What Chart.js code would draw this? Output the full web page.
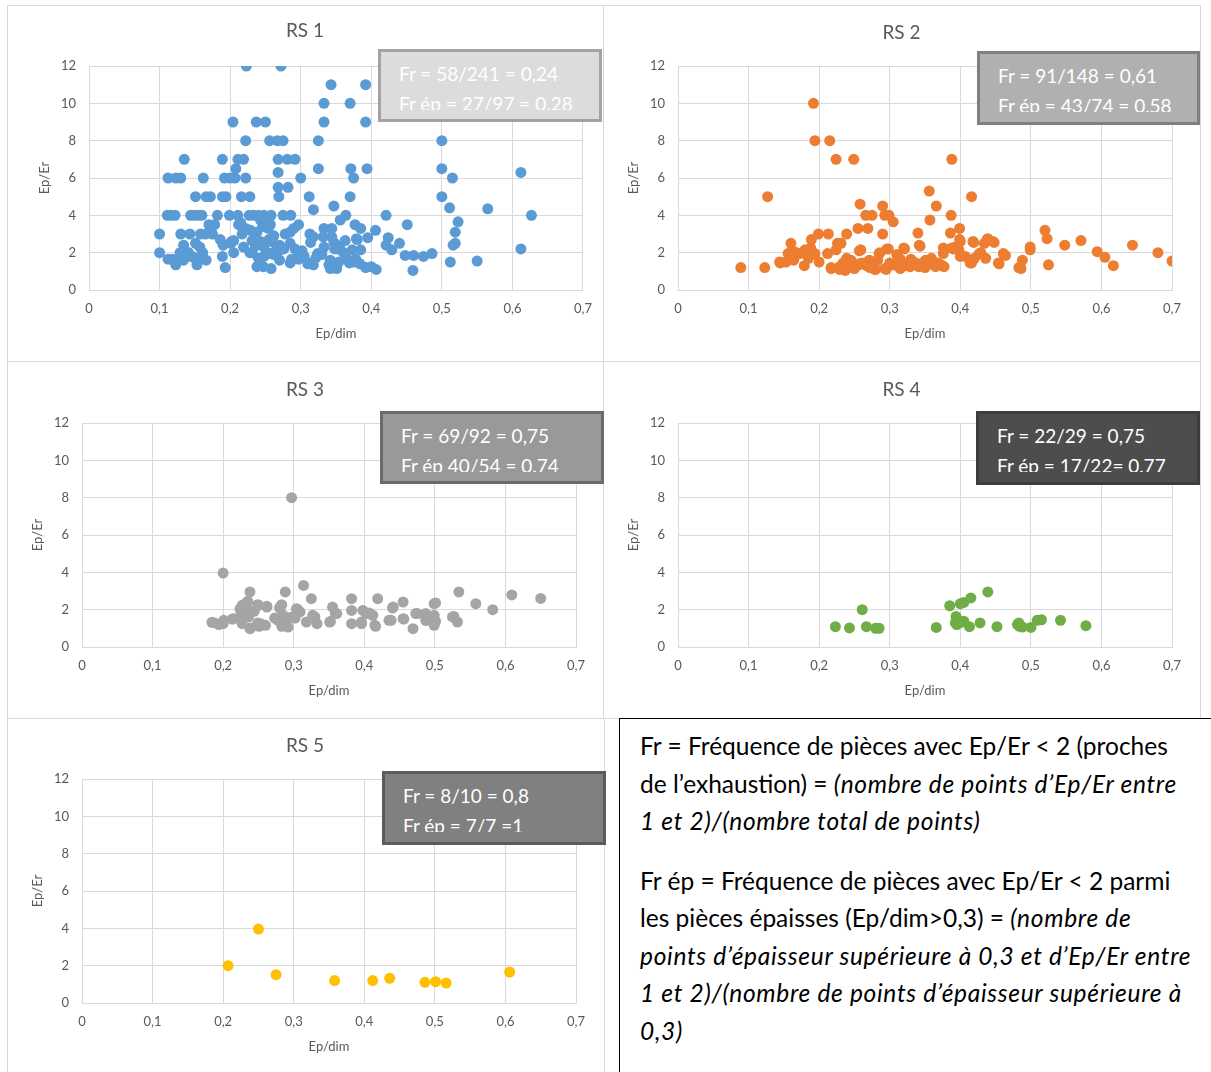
<!DOCTYPE html>
<html>
<head>
<meta charset="utf-8">
<title>RS 1-5 : Ep/Er en fonction de Ep/dim</title>
<script src="https://cdn.jsdelivr.net/npm/chart.js@4.4.0/dist/chart.umd.min.js"></script>
<style>
  html, body { margin: 0; padding: 0; background: #fff; }
  body { width: 1211px; height: 1072px; position: relative; overflow: hidden; font-family: Lato, 'Open Sans', sans-serif; }
  .panel { position: absolute; border: 1px solid #d9d9d9; box-sizing: border-box; }
  canvas { position: absolute; }
  .stat { position: absolute; box-sizing: border-box; border: 3px solid; color: #fff; font-size: 19px; }
  .stat .txt { position: absolute; left: 18px; top: 6.6px; right: 0; height: 51.5px; overflow: hidden; line-height: 30px; white-space: nowrap; }
  .note { position: absolute; left: 619px; top: 718px; width: 620px; height: 380px; border: 1px solid #000; box-sizing: border-box;
          padding: 8px 0 0 20px; font-size: 24.5px; line-height: 37.5px; color: #000; white-space: nowrap; }
  .note p { margin: 0 0 22px 0; }
  .note i { font-style: italic; letter-spacing: 0.7px; }
</style>
</head>
<body>

<div class="panel" style="left:7px;top:5px;width:597px;height:357px"></div>
<div class="panel" style="left:603px;top:5px;width:598px;height:357px"></div>
<div class="panel" style="left:7px;top:361px;width:597px;height:358px"></div>
<div class="panel" style="left:603px;top:361px;width:598px;height:358px"></div>
<div class="panel" style="left:7px;top:718px;width:598px;height:380px"></div>

<canvas id="rs1"></canvas>
<canvas id="rs2"></canvas>
<canvas id="rs3"></canvas>
<canvas id="rs4"></canvas>
<canvas id="rs5"></canvas>

<div class="note">
  <p>Fr = Fréquence de pièces avec Ep/Er &lt; 2 (proches<br>de l’exhaustion) = <i>(nombre de points d’Ep/Er entre<br>1 et 2)/(nombre total de points)</i></p>
  <p>Fr ép = Fréquence de pièces avec Ep/Er &lt; 2 parmi<br>les pièces épaisses (Ep/dim&gt;0,3) = <i>(nombre de<br>points d’épaisseur supérieure à 0,3 et d’Ep/Er entre<br>1 et 2)/(nombre de points d’épaisseur supérieure à<br>0,3)</i></p>
</div>

<script>
// ---------- data ----------
var xTickValues = [0, 0.1, 0.2, 0.3, 0.4, 0.5, 0.6, 0.7];
var xTickLabels = ['0', '0,1', '0,2', '0,3', '0,4', '0,5', '0,6', '0,7'];
var yTickValues = [0, 2, 4, 6, 8, 10, 12];
var yTickLabels = ['0', '2', '4', '6', '8', '10', '12'];

var rs1X = [
  .223,.272,.343,.392,.333,.370,.204,.237,.250,.333,
  .392,.222,.256,.267,.275,.325,.500,.135,.189,.211,
  .219,.268,.281,.292,.208,.325,.371,.394,.500,.612,
  .112,.123,.130,.162,.192,.200,.207,.222,.268,.300,
  .375,.515,.268,.282,.151,.166,.172,.189,.194,.216,
  .228,.269,.312,.370,.500,.347,.318,.511,.565,.111,
  .116,.122,.144,.150,.155,.160,.182,.199,.211,.227,
  .233,.240,.248,.258,.275,.286,.421,.627,.364,.356,
  .523,.178,.212,.243,.257,.297,.290,.333,.344,.377,
  .385,.406,.451,.519,.100,.130,.143,.158,.165,.175,
  .217,.238,.278,.285,.313,.332,.344,.379,.424,.440,
  .519,.134,.151,.186,.190,.201,.205,.219,.231,.243,
  .258,.270,.285,.314,.318,.347,.363,.380,.421,.429,
  .516,.100,.112,.118,.123,.129,.134,.141,.153,.153,
  .161,.166,.189,.193,.205,.231,.238,.247,.258,.248,
  .252,.259,.267,.285,.295,.302,.314,.318,.324,.333,
  .342,.342,.351,.354,.356,.361,.369,.375,.373,.385,
  .392,.400,.407,.448,.460,.474,.486,.459,.512,.550,
  .612,.121,.127,.146,.157,.170,.215,.222,.229,.246,
  .252,.262,.228,.240,.248,.262,.266,.276,.287,.297,
  .305,.310,.322,.330,.340,.348,.365,.378,.384,.395,
  .355,.302,.292,.270,.255,.236,.254,.202,.138,.148
];
var rs1Y = [
  12,12,11,11,10,10,9,9,9,9,
  9,8,8,8,8,8,8,7,7,7,
  7,7,7,7,6.5,6.5,6.5,6.5,6.5,6.3,
  6,6,6,6,6,6,6,6,6.3,6,
  6,6,5.5,5.5,5,5,5,5,5,5,
  5,5,5,5,5,4.5,4.3,4.4,4.35,4,
  4,4,4,4,4,4,4,4,4,4,
  4,4,4,4,4,4,4,4,4,3.75,
  3.65,3.5,3.5,3.75,3.5,3.5,3.3,3.3,3.3,3.5,
  3.3,3.2,3.5,3.1,3,3,3,3,3,3,
  3,3.1,3,3.1,3,2.85,2.85,2.75,2.8,2.5,
  2.5,2.4,2.5,2.7,2.4,2.5,2.65,2.3,2.65,2.6,
  2.6,2.4,2.5,2.55,2.85,2.55,2.65,2.7,2.4,2.15,
  2.4,2,1.65,1.65,1.35,2,1.6,2,1.6,1.35,
  2,1.6,1.8,1.2,2,2,1.25,1.25,1.15,1.8,
  2,1.95,2,1.45,1.7,1.95,1.45,1.35,1.95,2.3,
  1.6,1.15,1.15,1.5,2.15,2,1.45,1.5,2.15,2.15,
  1.2,1.25,1.1,1.85,1.85,1.8,1.95,1.05,1.5,1.55,
  2.2,1.55,1.7,1.8,2.3,3.5,3.6,3.3,3.2,3.4,
  3.6,2.9,2.0,1.7,2.3,1.9,2.2,2.2,1.65,1.65,
  1.8,1.4,1.75,1.9,1.35,2.2,1.7,1.65,1.4,2.8,
  2.35,2.1,2.2,1.6,2.7,2.35,3.3,2.6,2.05,1.75
];

var rs2X = [
  .192,.194,.215,.224,.249,.388,.127,.416,.356,.258,
  .290,.366,.266,.275,.293,.299,.305,.357,.387,.255,
  .269,.290,.199,.213,.239,.340,.342,.386,.399,.399,
  .418,.439,.446,.434,.520,.523,.548,.571,.644,.594,
  .605,.617,.680,.700,.499,.499,.525,.488,.486,.461,
  .454,.436,.427,.420,.416,.407,.400,.398,.388,.393,
  .376,.376,.373,.377,.368,.359,.351,.346,.341,.334,
  .329,.320,.320,.310,.315,.305,.296,.285,.283,.293,
  .280,.271,.266,.261,.256,.259,.239,.234,.237,.229,
  .226,.231,.224,.217,.212,.194,.188,.189,.173,.180,
  .185,.160,.156,.164,.144,.153,.179,.123,.089,.217,
  .229,.236,.257,.267,.279,.295,.310,.324,.338,.352,
  .362,.374,.257,.286,.298,.321,.343,.390,.400,.419,
  .438,.448,.464,.455,.483,.429,.414,.145,.165,.200,
  .245,.272,.300,.315,.330,.350,.365,.250
];
var rs2Y = [
  10,8,8,7,7,7,5,5,5.3,4.6,
  4.5,4.5,4,4,4,4,3.65,3.75,4,3.3,
  3.3,3,3,3,3,3.05,2.4,3.05,3.3,2.7,
  2.6,2.75,2.6,2.5,3.2,2.75,2.4,2.65,2.4,2.05,
  1.75,1.3,2,1.55,2.3,2.15,1.35,1.6,1.15,1.95,
  1.45,1.7,1.95,1.7,1.45,1.8,1.8,2.15,2.25,2.3,
  2.25,1.95,1.35,1.25,1.45,1.7,1.6,1.45,1.25,1.5,
  1.25,2.25,1.3,1.9,1.65,1.35,2.2,1.95,1.6,1.15,
  1.1,1.6,1.35,1.45,1.35,2.15,1.7,1.45,1.05,1.25,
  2.5,2.5,2.15,1.15,1.95,1.95,2.25,2.7,1.95,2.15,
  1.7,2.5,1.95,1.6,1.5,1.5,1.3,1.2,1.2,1.2,
  1.1,1.3,1.4,1.3,1.1,1.1,1.3,1.3,1.4,1.3,
  1.45,1.3,2.1,2,2.2,2.2,2.35,2.2,2.6,2.55,
  2.7,2.55,1.85,1.4,1.2,2,1.45,1.45,2.05,1.5,
  1.6,1.2,1.45,1.15,1.65,1.2,1.25,1.15
];

var rs3X = [
  .187,.200,.215,.224,.227,.234,.238,.231,.236,.227,
  .238,.250,.262,.253,.260,.281,.281,.288,.285,.290,
  .297,.304,.309,.314,.318,.325,.330,.333,.351,.355,
  .361,.382,.382,.382,.396,.398,.403,.412,.415,.419,
  .441,.438,.455,.455,.469,.473,.487,.487,.499,.499,
  .499,.525,.532,.534,.558,.297,.200,.609,.650,.582,
  .306,.302,.292,.283,.278,.280,.283,.273,.262,.249,
  .251,.249,.235,.235,.225,.230,.239,.213,.201,.194,
  .184,.244,.327,.359,.352,.396,.407,.416,.435,.456,
  .475,.488,.501,.527,.501,.440
];
var rs3Y = [
  1.3,1.25,1.52,2.05,2.23,2.41,2.95,1.79,1.61,1.25,
  .98,2.23,2.14,1.25,1.16,2.14,1.52,2.95,1.7,1.16,
  1.61,2.05,1.88,3.3,1.34,2.59,1.61,1.25,1.34,2.14,
  1.79,2.59,1.96,1.25,1.25,1.96,1.79,1.7,1.16,2.59,
  2.14,1.43,2.41,1.52,.98,1.79,1.79,1.43,2.32,1.7,
  1.16,1.61,1.34,2.95,2.32,8,3.96,2.79,2.6,2,
  2,1.55,1.07,1.11,1.43,2.09,2.27,1.55,2.18,1.29,
  1.11,2.27,2.45,2,1.91,1.64,1.02,1.5,1.43,1.2,
  1.32,1.91,1.7,1.79,1.36,1.34,1.82,1.11,1.43,1.5,
  1.79,1.43,1.38,1.64,2.36,2.09
];

var rs4X = [
  .223,.243,.261,.267,.280,.285,.366,.385,.394,.393,
  .395,.400,.405,.405,.415,.413,.428,.439,.452,.481,
  .484,.488,.483,.500,.509,.515,.542,.578,.400
];
var rs4Y = [
  1.09,1.02,2,1.09,1,1,1.05,2.21,1.64,1.29,
  1.2,2.32,2.39,1.38,2.63,1.09,1.29,2.95,1.09,1.2,
  1.11,1.07,1.29,1.05,1.43,1.46,1.43,1.14,1.3
];

var rs5X = [.207, .250, .275, .358, .412, .436, .486, .501, .516, .606];
var rs5Y = [2, 3.96, 1.52, 1.2, 1.2, 1.32, 1.11, 1.14, 1.07, 1.66];

var statLines = [
  ['Fr = 58/241 = 0,24', 'Fr ép = 27/97 = 0.28'],
  ['Fr = 91/148 = 0,61', 'Fr ép = 43/74 = 0,58'],
  ['Fr = 69/92 = 0,75', 'Fr ép 40/54 = 0.74'],
  ['Fr = 22/29 = 0,75', 'Fr ép = 17/22= 0,77'],
  ['Fr = 8/10 = 0,8', 'Fr ép = 7/7 =1']
];

// ---------- look ----------
var FONT = "Lato, 'Open Sans', sans-serif";
var TXT = '#595959';
var GRID = '#d9d9d9';

// canvas box + plot area, all in page pixels
var panels = [
  { id: 'rs1', name: 'RS 1', xs: rs1X, ys: rs1Y, color: '#5b9bd5', left: 7,   top: 5,   w: 596, h: 356, aL: 89,  aR: 583,  aT: 66,  aB: 290,  titleY: 31,  yTitleX: 45,  xTitleY: 334,
    box: { left: 378, top: 49, w: 224, h: 73, bg: '#dcdcdc', border: '#a3a3a3' } },
  { id: 'rs2', name: 'RS 2', xs: rs2X, ys: rs2Y, color: '#ed7d31', left: 603, top: 5,   w: 597, h: 356, aL: 678, aR: 1172, aT: 66,  aB: 290,  titleY: 33,  yTitleX: 634, xTitleY: 334,
    box: { left: 977, top: 51, w: 223, h: 74, bg: '#b0b0b0', border: '#7f7f7f' } },
  { id: 'rs3', name: 'RS 3', xs: rs3X, ys: rs3Y, color: '#a5a5a5', left: 7,   top: 361, w: 596, h: 357, aL: 82,  aR: 576,  aT: 423, aB: 647,  titleY: 390, yTitleX: 38,  xTitleY: 691,
    box: { left: 380, top: 411, w: 224, h: 73, bg: '#999999', border: '#6b6b6b' } },
  { id: 'rs4', name: 'RS 4', xs: rs4X, ys: rs4Y, color: '#70ad47', left: 603, top: 361, w: 597, h: 357, aL: 678, aR: 1172, aT: 423, aB: 647,  titleY: 390, yTitleX: 634, xTitleY: 691,
    box: { left: 976, top: 411, w: 224, h: 74, bg: '#4d4d4d', border: '#3d3d3d' } },
  { id: 'rs5', name: 'RS 5', xs: rs5X, ys: rs5Y, color: '#ffc000', left: 7,   top: 718, w: 596, h: 354, aL: 82,  aR: 576,  aT: 779, aB: 1003, titleY: 746, yTitleX: 38,  xTitleY: 1047,
    box: { left: 382, top: 771, w: 224, h: 74, bg: '#808080', border: '#5c5c5c' } }
];

function makeChart(p, lines) {
  var cv = document.getElementById(p.id);
  cv.width = p.w; cv.height = p.h;
  cv.style.left = p.left + 'px'; cv.style.top = p.top + 'px';
  cv.style.width = p.w + 'px'; cv.style.height = p.h + 'px';

  // relative geometry; same padding both sides so the title stays centred on the panel
  var aL = p.aL - p.left, aR = p.aR - p.left;
  var aT = p.aT - p.top, aB = p.aB - p.top;
  var side = p.w - aR;
  var tY = p.titleY - p.top;
  var titleLH = 19 * 1.2, axLH = 13 * 1.2;

  var pts = p.xs.map(function (x, i) { return { x: x, y: p.ys[i] }; });

  new Chart(cv.getContext('2d'), {
    type: 'scatter',
    data: { datasets: [{ data: pts, backgroundColor: p.color, borderColor: p.color, pointRadius: 5.5, pointBorderWidth: 0, pointHoverRadius: 5.5 }] },
    options: {
      responsive: false,
      animation: false,
      events: [],
      layout: { padding: { left: side, top: 0, bottom: 0, right: side } },
      plugins: {
        legend: { display: false },
        tooltip: { enabled: false },
        title: {
          display: true, text: p.name, color: TXT,
          font: { family: FONT, size: 19, weight: 'normal', lineHeight: 1.2 },
          padding: { top: tY - titleLH / 2, bottom: aT - tY - titleLH / 2 }
        }
      },
      scales: {
        x: {
          type: 'linear', min: 0, max: 0.7,
          afterBuildTicks: function (s) { s.ticks = xTickValues.map(function (v) { return { value: v }; }); },
          afterFit: function (s) { s.height = p.h - aB; },
          grid: { color: GRID, drawTicks: false },
          border: { color: GRID },
          ticks: { padding: 11, color: TXT, maxRotation: 0, font: { family: FONT, size: 13 },
                   callback: function (v, i) { return xTickLabels[i]; } },
          title: { display: true, text: 'Ep/dim', color: TXT, font: { family: FONT, size: 13, lineHeight: 1.2 },
                   padding: { top: 0, bottom: p.h - (p.xTitleY - p.top) - axLH / 2 } }
        },
        y: {
          type: 'linear', min: 0, max: 12,
          afterBuildTicks: function (s) { s.ticks = yTickValues.map(function (v) { return { value: v }; }); },
          afterFit: function (s) { s.width = aL - side; },
          grid: { color: GRID, drawTicks: false },
          border: { color: GRID },
          ticks: { padding: 13, color: TXT, font: { family: FONT, size: 13 },
                   callback: function (v, i) { return yTickLabels[i]; } },
          title: { display: true, text: 'Ep/Er', color: TXT, font: { family: FONT, size: 13, lineHeight: 1.2 },
                   padding: { top: (p.yTitleX - p.left) - side - axLH / 2, bottom: 0 } }
        }
      }
    }
  });

  // statistics box laid over the plot
  var b = document.createElement('div');
  b.className = 'stat';
  b.style.left = p.box.left + 'px'; b.style.top = p.box.top + 'px';
  b.style.width = p.box.w + 'px'; b.style.height = p.box.h + 'px';
  b.style.background = p.box.bg; b.style.borderColor = p.box.border;
  var t = document.createElement('div');
  t.className = 'txt';
  t.innerHTML = lines[0] + '<br>' + lines[1];
  b.appendChild(t);
  document.body.appendChild(b);
}

panels.forEach(function (p, i) { makeChart(p, statLines[i]); });
</script>
</body>
</html>
